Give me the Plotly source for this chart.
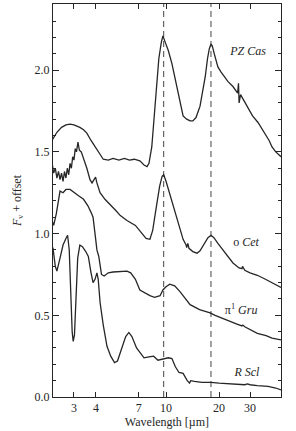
import plotly.graph_objects as go

# ---------------- data ----------------
pzcas_wl = [2.22, 2.28, 2.4, 2.55, 2.7, 2.85, 3.0, 3.24, 3.4, 3.55, 3.75, 4.0, 4.22, 4.4, 4.7,
            5.0, 5.4, 5.8, 6.2, 6.6, 7.1, 7.5, 7.8, 8.0, 8.3, 8.66, 9.1, 9.4, 9.6, 9.9, 10.3,
            10.8, 11.5, 12.0, 12.5, 13.1, 13.7, 14.2, 14.8, 15.6, 16.2, 16.7, 17.2, 17.6, 18.0,
            18.3, 18.8, 19.7, 20.5, 21.5, 22.5, 24.0, 25.5, 25.8, 26.0, 26.5, 27.5, 29.2, 31.0,
            33.3, 35.0, 36.5, 38.5, 40.0, 42.0, 45.0]
pzcas_f = [1.60, 1.58, 1.62, 1.65, 1.665, 1.67, 1.665, 1.65, 1.635, 1.615, 1.57, 1.52, 1.48, 1.455, 1.45,
           1.46, 1.45, 1.46, 1.45, 1.455, 1.445, 1.42, 1.41, 1.43, 1.53, 1.80, 2.07, 2.17, 2.21, 2.17, 2.12,
           2.04, 1.90, 1.80, 1.72, 1.70, 1.69, 1.69, 1.71, 1.78, 1.88, 1.96, 2.07, 2.13, 2.16,
           2.15, 2.10, 2.02, 1.99, 1.96, 1.93, 1.90, 1.86, 1.92, 1.80, 1.85, 1.82, 1.77, 1.72,
           1.68, 1.64, 1.61, 1.57, 1.53, 1.50, 1.47]

ocet_wl = [2.22, 2.26, 2.3, 2.35, 2.4, 2.45, 2.5, 2.55, 2.6, 2.65, 2.7, 2.75, 2.8, 2.85, 2.9, 2.95,
           3.0, 3.05, 3.1, 3.16, 3.22, 3.3, 3.4, 3.55, 3.7, 3.8, 3.9, 3.98, 4.05, 4.22, 4.5, 4.8,
           5.2, 5.5, 6.0, 6.7, 7.2, 7.7, 8.1, 8.4, 8.8, 9.2, 9.5, 9.7, 10.0, 10.5, 11.0, 11.5,
           12.0, 12.5, 13.0, 13.1, 13.3, 13.5, 14.2, 15.0, 15.6, 16.5, 17.3, 18.0, 18.7, 19.7,
           21.0, 22.5, 24.0, 26.0, 27.0, 27.2, 28.0, 30.0, 33.0, 36.0, 40.0, 45.0]
ocet_f = [1.48, 1.42, 1.37, 1.40, 1.34, 1.38, 1.33, 1.37, 1.32, 1.38, 1.34, 1.40, 1.36, 1.43, 1.40, 1.47,
          1.45, 1.52, 1.50, 1.56, 1.51, 1.50, 1.46, 1.40, 1.33, 1.31, 1.33, 1.345, 1.31, 1.25, 1.21, 1.18,
          1.14, 1.11, 1.08, 1.05, 1.01, 0.97, 0.965, 1.02, 1.16, 1.29, 1.35, 1.36, 1.32, 1.24, 1.16, 1.09,
          1.02, 0.965, 0.93, 0.915, 0.94, 0.91, 0.89, 0.88, 0.895, 0.94, 0.975, 0.99, 0.975, 0.94,
          0.90, 0.86, 0.82, 0.79, 0.785, 0.80, 0.775, 0.76, 0.745, 0.725, 0.70, 0.67]

pigru_wl = [2.22, 2.3, 2.38, 2.45, 2.5, 2.6, 2.7, 2.85, 3.0, 3.2, 3.4, 3.6, 3.75, 3.85, 3.95, 4.05,
            4.15, 4.3, 4.45, 4.7, 5.0, 5.5, 6.0, 6.3, 6.7, 7.1, 7.6, 8.1, 8.6, 9.25, 9.6, 10.0,
            10.5, 11.2, 12.0, 13.7, 15.5, 17.8, 19.0, 21.0, 23.0, 25.5, 27.0, 27.3, 28.0, 30.0,
            33.0, 37.0, 40.0, 45.0]
pigru_f = [1.10, 1.05, 1.12, 1.22, 1.26, 1.25, 1.27, 1.27, 1.25, 1.23, 1.21, 1.17, 1.13, 1.10, 1.00, 0.90,
           0.86, 0.75, 0.74, 0.76, 0.765, 0.77, 0.77, 0.76, 0.72, 0.655, 0.635, 0.62, 0.61, 0.62, 0.655, 0.675,
           0.69, 0.68, 0.645, 0.565, 0.535, 0.515, 0.50, 0.48, 0.465, 0.445, 0.435, 0.44, 0.43, 0.415,
           0.39, 0.375, 0.36, 0.35]

rscl_wl = [2.22, 2.28, 2.35, 2.4, 2.5, 2.6, 2.7, 2.76, 2.82, 2.88, 2.93, 2.97, 3.02, 3.08, 3.15, 3.24,
           3.35, 3.5, 3.62, 3.75, 3.85, 3.95, 4.05, 4.12, 4.22, 4.4, 4.62, 4.85, 5.1, 5.3, 5.6, 5.9,
           6.15, 6.4, 6.8, 7.1, 7.5, 8.0, 8.5, 9.0, 9.6, 10.3, 10.8, 11.3, 11.85, 12.5, 13.2, 13.6,
           13.8, 14.5, 16.0, 18.0, 20.0, 22.5, 26.0, 28.0, 29.0, 30.0, 33.0, 38.0, 42.0, 45.0]
rscl_f = [0.93, 0.91, 0.80, 0.77, 0.85, 0.93, 0.97, 0.99, 0.90, 0.60, 0.40, 0.34, 0.38, 0.60, 0.85, 0.93,
          0.92, 0.89, 0.86, 0.76, 0.70, 0.72, 0.76, 0.72, 0.58, 0.44, 0.31, 0.25, 0.21, 0.22, 0.30, 0.37,
          0.395, 0.37, 0.30, 0.27, 0.24, 0.245, 0.25, 0.225, 0.23, 0.24, 0.235, 0.185, 0.15, 0.145, 0.10, 0.085,
          0.10, 0.095, 0.09, 0.09, 0.085, 0.08, 0.075, 0.075, 0.08, 0.075, 0.07, 0.065, 0.055, 0.043]

feature_wl = [9.7, 18.0]          # dashed reference lines
star_names = ["<i>PZ Cas</i>", "o <i>Cet</i>", "π<sup>1</sup> <i>Gru</i>", "<i>R Scl</i>"]
x_ticks = [3, 4, 7, 10, 20, 30]
y_ticks = [0.0, 0.5, 1.0, 1.5, 2.0]
y_ticktext = ["0.0", "0.5", "1.0", "1.5", "2.0"]
y_max = 2.405

# label placement (layout, in axis units)
label_x = [29.2, 28.5, 26.7, 28.8]
label_y = [2.11, 0.94, 0.526, 0.147]

# ---------------- figure ----------------
ink = "#262626"
fig = go.Figure()

for wl in feature_wl:
    fig.add_trace(go.Scatter(x=[wl, wl], y=[0, y_max], mode="lines",
                             line=dict(color="#444", width=1, dash="6px,4px"),
                             hoverinfo="skip"))

for wl, f in [(pzcas_wl, pzcas_f), (ocet_wl, ocet_f), (pigru_wl, pigru_f), (rscl_wl, rscl_f)]:
    fig.add_trace(go.Scatter(x=wl, y=f, mode="lines", line=dict(color=ink, width=1.3)))

fig.add_trace(go.Scatter(x=label_x, y=label_y, mode="text", text=star_names,
                         textposition="middle center",
                         textfont=dict(size=12, color=ink, family="Liberation Serif"),
                         hoverinfo="skip"))

fig.update_layout(
    width=296, height=431,
    margin=dict(l=53, r=15, t=4, b=34),
    plot_bgcolor="white", paper_bgcolor="white",
    showlegend=False,
    font=dict(family="Liberation Serif", size=12, color=ink),
)
fig.update_xaxes(
    type="log", range=[0.358, 1.653],
    tickvals=x_ticks, ticktext=[str(t) for t in x_ticks],
    ticks="inside", ticklen=5, tickcolor=ink,
    showline=True, linecolor=ink, linewidth=1, mirror="ticks",
    showgrid=False, zeroline=False,
    title=dict(text="Wavelength [µm]", standoff=0, font=dict(size=12)),
    automargin=False,
)
fig.update_yaxes(
    range=[0, y_max],
    tickvals=y_ticks, ticktext=y_ticktext,
    ticks="inside", ticklen=6, tickcolor=ink,
    minor=dict(dtick=0.1, tick0=0, ticks="inside", ticklen=3, tickcolor=ink, showgrid=False),
    showline=True, linecolor=ink, linewidth=1, mirror="ticks",
    showgrid=False, zeroline=False,
    title=dict(text="<i>F</i><sub>ν</sub> + offset", standoff=10, font=dict(size=12)),
    automargin=False,
)

fig.write_html("out.html", config={"displayModeBar": False},
               post_script="document.body.style.margin='0px';")
